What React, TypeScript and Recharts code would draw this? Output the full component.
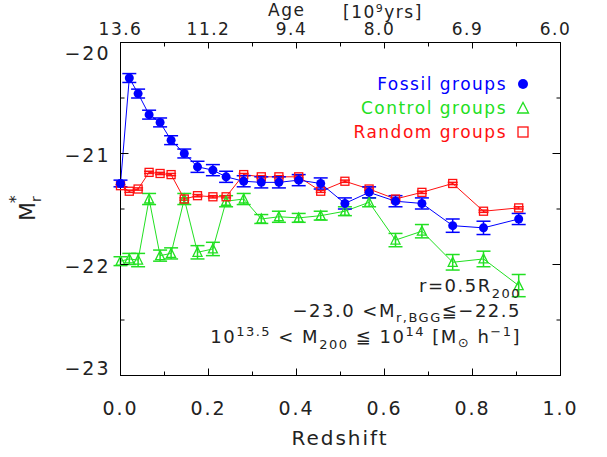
import React from 'react';
import { ComposedChart, Line, XAxis, YAxis, ErrorBar, ReferenceArea } from 'recharts';

// redshift bins
const redshift = [0.0, 0.02, 0.04, 0.065, 0.09, 0.115, 0.145, 0.175, 0.21, 0.24, 0.28, 0.32, 0.36, 0.405, 0.455, 0.51, 0.565, 0.625, 0.685, 0.755, 0.825, 0.905];

const fossil = [-21.27, -20.32, -20.46, -20.65, -20.72, -20.88, -21.0, -21.12, -21.15, -21.21, -21.25, -21.26, -21.26, -21.24, -21.27, -21.45, -21.35, -21.43, -21.45, -21.65, -21.67, -21.59];
const fossilErr = [0.03, 0.04, 0.04, 0.04, 0.04, 0.04, 0.04, 0.05, 0.05, 0.05, 0.05, 0.05, 0.05, 0.05, 0.05, 0.05, 0.05, 0.05, 0.05, 0.06, 0.06, 0.05];

const control = [-21.97, -21.95, -21.96, -21.41, -21.92, -21.9, -21.41, -21.89, -21.86, -21.43, -21.41, -21.59, -21.57, -21.58, -21.56, -21.52, -21.44, -21.78, -21.7, -21.98, -21.95, -22.19];
const controlErr = [0.04, 0.05, 0.06, 0.05, 0.05, 0.05, 0.05, 0.06, 0.06, 0.05, 0.05, 0.04, 0.05, 0.04, 0.04, 0.04, 0.04, 0.06, 0.06, 0.07, 0.07, 0.1];

const random = [-21.29, -21.34, -21.32, -21.17, -21.18, -21.19, -21.41, -21.38, -21.39, -21.39, -21.19, -21.21, -21.21, -21.21, -21.34, -21.25, -21.32, -21.41, -21.35, -21.27, -21.52, -21.49];
const randomErr = redshift.map(() => 0.01);

const xTicks = [0, 0.1, 0.2, 0.3, 0.4, 0.5, 0.6, 0.7, 0.8, 0.9, 1.0];
const yTicks = [-23, -22.5, -22, -21.5, -21, -20.5, -20];
const ageLabels = ['13.6', '11.2', '9.4', '8.0', '6.9', '6.0'];

const data = redshift.map((z, i) => ({
  z,
  fossil: fossil[i],
  fossilErr: fossilErr[i],
  control: control[i],
  controlErr: controlErr[i],
  random: random[i],
  randomErr: randomErr[i],
}));

const W = 607;
const H = 457;
const MARGIN = { top: 12.5, right: 45.5, bottom: 41.5, left: 60.5 };
const PLOT_RIGHT = W - MARGIN.right - 1;

const BLUE = '#0000ff';
const GREEN = '#22e022';
const RED = '#ff1010';
const AX = '#000';
const FONT = '"DejaVu Sans", sans-serif';
const TXT = '#222';

const isMajorX = (v: number) => Math.round(v * 10) % 2 === 0;
const isMajorY = (v: number) => Number.isInteger(v);

const BottomTick = (p: any) => {
  const { x, y, payload } = p;
  const v = payload.value;
  const major = isMajorX(v);
  return (
    <g>
      <line x1={x} x2={x} y1={y} y2={y - (major ? 7 : 4)} stroke={AX} strokeWidth={1} />
      {major && (
        <text x={x} y={y + 39} textAnchor="middle" fontFamily={FONT} fontSize={19} letterSpacing={2} fill={TXT}>
          {v.toFixed(1)}
        </text>
      )}
    </g>
  );
};

const TopTick = (p: any) => {
  const { x, y, payload } = p;
  const v = payload.value;
  const major = isMajorX(v);
  const label = major ? ageLabels[Math.round(v * 5)] : '';
  return (
    <g>
      <line x1={x} x2={x} y1={y} y2={y + (major ? 6 : 4)} stroke={AX} strokeWidth={1} />
      {major && (
        <text x={x} dx={label.length < 4 ? -5 : 0} y={y - 8} textAnchor="middle" fontFamily={FONT} fontSize={17} letterSpacing={1.5} fill={TXT}>
          {label}
        </text>
      )}
    </g>
  );
};

// left ticks also mirror onto the right edge of the frame
const LeftTick = (p: any) => {
  const { x, y, payload } = p;
  const v = payload.value;
  const major = isMajorY(v);
  const len = major ? 8 : 4;
  const dy = v === -20 ? 17 : v === -23 ? -1 : 8;
  return (
    <g>
      <line x1={x} x2={x + len} y1={y} y2={y} stroke={AX} strokeWidth={1} />
      <line x1={PLOT_RIGHT} x2={PLOT_RIGHT - len} y1={y} y2={y} stroke={AX} strokeWidth={1} />
      {major && (
        <text x={x - 10} y={y + dy} textAnchor="end" fontFamily={FONT} fontSize={19} letterSpacing={2} fill={TXT}>
          {'\u2212' + Math.abs(v)}
        </text>
      )}
    </g>
  );
};

const circleDot = (p: any) => <circle key={`c${p.index}`} cx={p.cx} cy={p.cy} r={4.5} fill={BLUE} />;
const triangleDot = (p: any) => (
  <polygon
    key={`t${p.index}`}
    points={`${p.cx - 4.5},${p.cy + 4} ${p.cx + 4.5},${p.cy + 4} ${p.cx},${p.cy - 5}`}
    fill="none"
    stroke={GREEN}
    strokeWidth={1.3}
  />
);
const squareDot = (p: any) => (
  <rect key={`s${p.index}`} x={p.cx - 4} y={p.cy - 4} width={8} height={8} fill="none" stroke={RED} strokeWidth={1.3} />
);

const textStyle = { fontFamily: FONT, fill: TXT };
const axisLine = { stroke: AX, strokeWidth: 1 };

export default function App() {
  return (
    <div style={{ position: 'absolute', left: 0, top: 0, width: W, height: H, background: '#fff' }}>
      <ComposedChart width={W} height={H} data={data} margin={MARGIN}>
        <XAxis xAxisId="bottom" type="number" dataKey="z" domain={[0, 1]} ticks={xTicks} height={40} tickSize={0} tickMargin={0} tickLine={false} axisLine={axisLine} tick={BottomTick} interval={0} />
        <XAxis xAxisId="top" orientation="top" type="number" dataKey="z" domain={[0, 1]} ticks={xTicks} height={30} tickSize={0} tickMargin={0} tickLine={false} axisLine={axisLine} tick={TopTick} interval={0} />
        <YAxis yAxisId="left" type="number" domain={[-23, -20]} ticks={yTicks} width={60} tickSize={0} tickMargin={0} tickLine={false} axisLine={axisLine} tick={LeftTick} interval={0} />
        <YAxis yAxisId="right" orientation="right" type="number" domain={[-23, -20]} ticks={yTicks} width={1} tickSize={0} tickMargin={0} tickLine={false} axisLine={axisLine} tick={false} />
        <ReferenceArea xAxisId="bottom" yAxisId="left" x1={0} x2={1} y1={-23} y2={-20} ifOverflow="visible" fill="none" stroke={AX} strokeWidth={1} />
        <Line xAxisId="bottom" yAxisId="left" dataKey="control" stroke={GREEN} strokeWidth={1} dot={triangleDot} isAnimationActive={false}>
          <ErrorBar dataKey="controlErr" width={7} stroke={GREEN} direction="y" />
        </Line>
        <Line xAxisId="bottom" yAxisId="left" dataKey="random" stroke={RED} strokeWidth={1} dot={squareDot} isAnimationActive={false}>
          <ErrorBar dataKey="randomErr" width={5} stroke={RED} direction="y" />
        </Line>
        <Line xAxisId="bottom" yAxisId="left" dataKey="fossil" stroke={BLUE} strokeWidth={1} dot={circleDot} isAnimationActive={false}>
          <ErrorBar dataKey="fossilErr" width={7} stroke={BLUE} direction="y" />
        </Line>
      </ComposedChart>

      <svg width={W} height={H} style={{ position: 'absolute', left: 0, top: 0, pointerEvents: 'none' }}>
        {/* axis titles */}
        <text x={340} y={445} textAnchor="middle" fontSize={20} letterSpacing={2} style={textStyle}>
          Redshift
        </text>
        <text x={268} y={16} fontSize={17} letterSpacing={1.5} style={textStyle}>
          Age
        </text>
        <text x={343} y={18} fontSize={17} letterSpacing={1.5} style={textStyle}>
          [10<tspan dy={-6} fontSize={11}>9</tspan>
          <tspan dy={6}>yrs]</tspan>
        </text>
        <g transform="translate(35, 208) rotate(-90)">
          <text x={0} y={0} textAnchor="middle" fontSize={22} style={textStyle}>
            M<tspan dy={6} fontSize={14}>r</tspan>
            <tspan dx={-7} dy={-20} fontSize={16}>*</tspan>
          </text>
        </g>

        {/* legend */}
        <text x={507} y={90} textAnchor="end" fontSize={17} letterSpacing={1.5} fontFamily={FONT} fill={BLUE}>
          Fossil groups
        </text>
        <circle cx={523} cy={84} r={5} fill={BLUE} />
        <text x={507} y={114} textAnchor="end" fontSize={17} letterSpacing={1.5} fontFamily={FONT} fill={GREEN}>
          Control groups
        </text>
        <polygon points="517.5,113 528.5,113 523,102.5" fill="none" stroke={GREEN} strokeWidth={1.3} />
        <text x={507} y={138} textAnchor="end" fontSize={17} letterSpacing={1.5} fontFamily={FONT} fill={RED}>
          Random groups
        </text>
        <rect x={518} y={127} width={10} height={10} fill="none" stroke={RED} strokeWidth={1.3} />

        {/* annotations */}
        <text x={521} y={292} textAnchor="end" fontSize={18} letterSpacing={1.5} style={textStyle}>
          r=0.5R<tspan dy={6} fontSize={13}>200</tspan>
        </text>
        <text x={521} y={317} textAnchor="end" fontSize={18} letterSpacing={1.5} style={textStyle}>
          {'\u221223.0 <M'}
          <tspan dy={5} fontSize={13}>r,BGG</tspan>
          <tspan dy={-5}>{'\u2266\u221222.5'}</tspan>
        </text>
        <text x={521} y={343} textAnchor="end" fontSize={18} letterSpacing={1.5} style={textStyle}>
          10<tspan dy={-7} fontSize={13}>13.5</tspan>
          <tspan dy={7}>{' <  M'}</tspan>
          <tspan dy={6} fontSize={13}>200</tspan>
          <tspan dy={-6}>{'  \u2266  10'}</tspan>
          <tspan dy={-7} fontSize={13}>14</tspan>
          <tspan dy={7}>{' [M'}</tspan>
          <tspan dy={4} fontSize={13}>{'\u2299'}</tspan>
          <tspan dy={-4}>{' h'}</tspan>
          <tspan dy={-7} fontSize={13}>{'\u22121'}</tspan>
          <tspan dy={7}>]</tspan>
        </text>
      </svg>
    </div>
  );
}
